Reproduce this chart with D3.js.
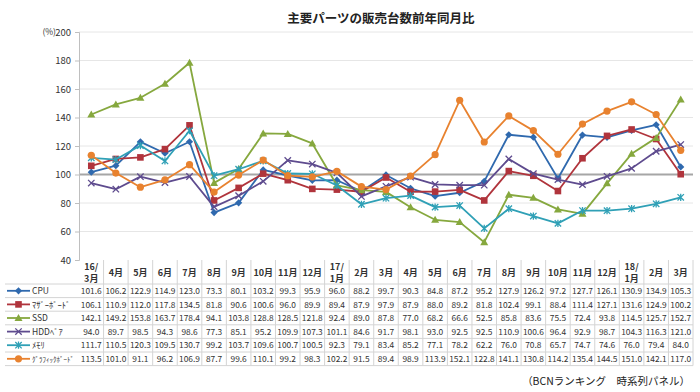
<!DOCTYPE html>
<html><head><meta charset="utf-8">
<script src="https://cdn.jsdelivr.net/npm/d3@7"></script>
<style>body{margin:0;background:#fff}svg{display:block}text{font-family:"Noto Sans CJK JP","Noto Sans",sans-serif}</style>
</head><body><svg id="c" width="700" height="392"></svg>
<script>
const categories=["16/\n3月","4月","5月","6月","7月","8月","9月","10月","11月","12月","17/\n1月","2月","3月","4月","5月","6月","7月","8月","9月","10月","11月","12月","18/\n1月","2月","3月"];
const cpu=[101.6,106.2,122.9,114.9,123.0,73.3,80.1,103.2,99.3,95.9,96.0,88.2,99.7,90.3,84.8,87.2,95.2,127.9,126.2,97.2,127.7,126.1,130.9,134.9,105.3];
const mb=[106.1,110.9,112.0,117.8,134.5,81.8,90.6,100.6,96.0,89.9,89.4,87.9,97.9,87.9,88.0,89.2,81.8,102.4,99.1,88.4,111.4,127.1,131.6,124.9,100.2];
const ssd=[142.1,149.2,153.8,163.7,178.4,94.1,103.8,128.8,128.5,121.8,92.4,89.0,87.8,77.0,68.2,66.6,52.5,85.8,83.6,75.5,72.4,93.8,114.5,125.7,152.7];
const hdd=[94.0,89.7,98.5,94.3,98.6,77.3,85.1,95.2,109.9,107.3,101.1,84.6,91.7,98.1,93.0,92.5,92.5,110.9,100.6,96.4,92.9,98.7,104.3,116.3,121.0];
const mem=[111.7,110.5,120.3,109.5,130.7,99.2,103.7,109.6,100.7,100.5,92.3,79.1,83.4,85.2,77.1,78.2,62.2,76.0,70.8,65.7,74.7,74.6,76.0,79.4,84.0];
const gpu=[113.5,101.0,91.1,96.2,106.9,87.7,99.6,110.1,99.2,98.3,102.2,91.5,89.4,98.9,113.9,152.1,122.8,141.1,130.8,114.2,135.4,144.5,151.0,142.1,117.0];
const seriesNames=["CPU","ﾏｻﾞｰﾎﾞｰﾄﾞ","SSD","HDDﾍﾞｱ","ﾒﾓﾘ","ｸﾞﾗﾌｨｯｸﾎﾞｰﾄﾞ"];
const yTicks=[40,60,80,100,120,140,160,180,200];
const title="主要パーツの販売台数前年同月比";
const source="（BCNランキング　時系列パネル）";

const series=[
 {name:seriesNames[0],values:cpu,color:"#2F69AE",marker:"diamond"},
 {name:seriesNames[1],values:mb,color:"#B0343C",marker:"square"},
 {name:seriesNames[2],values:ssd,color:"#86A83E",marker:"triangle"},
 {name:seriesNames[3],values:hdd,color:"#5E4B8E",marker:"x"},
 {name:seriesNames[4],values:mem,color:"#2FA0B6",marker:"star"},
 {name:seriesNames[5],values:gpu,color:"#E8822F",marker:"circle"}
];

const svg=d3.select("#c");
const L=79,R=693,T=32,B=260;
const x=d3.scaleBand().domain(d3.range(categories.length)).range([L,R]);
const y=d3.scaleLinear().domain([40,200]).range([B,T]);

svg.append("text").attr("x",381).attr("y",23).attr("text-anchor","middle").attr("font-size",12.5).attr("font-weight","bold").attr("fill","#222").text(title);

const g=svg.append("g");
g.selectAll("line.grid").data(yTicks.filter(v=>v!==40&&v!==100)).join("line")
 .attr("x1",L).attr("x2",R).attr("y1",d=>y(d)).attr("y2",d=>y(d)).attr("stroke","#e6e6e6").attr("stroke-width",1);
g.append("line").attr("x1",L).attr("x2",R).attr("y1",y(100)).attr("y2",y(100)).attr("stroke","#a6a6a6").attr("stroke-width",2);

const ax=svg.append("g").attr("transform",`translate(${L},0)`).call(d3.axisLeft(y).tickValues(yTicks).tickSize(4).tickPadding(4));
ax.select(".domain").attr("stroke","#bfbfbf");
ax.selectAll(".tick line").attr("stroke","#bfbfbf");
ax.selectAll(".tick text").attr("font-size",9.5).attr("fill","#333").attr("font-family","'Liberation Sans',sans-serif");
svg.append("text").attr("x",56).attr("y",y(200)+3).attr("text-anchor","end").attr("font-size",8.5).attr("fill","#333").text("(%)");

function marker(sel,type,color){
  const s=3.6;
  if(type==="diamond") sel.append("path").attr("d",`M0,${-s}L${s},0L0,${s}L${-s},0Z`).attr("fill",color);
  else if(type==="square") sel.append("rect").attr("x",-3.3).attr("y",-3.3).attr("width",6.6).attr("height",6.6).attr("fill",color);
  else if(type==="triangle") sel.append("path").attr("d",`M0,-4L4,3L-4,3Z`).attr("fill",color);
  else if(type==="circle") sel.append("circle").attr("r",3.6).attr("fill",color);
  else if(type==="x") sel.append("path").attr("d","M-3.2,-3.2L3.2,3.2M-3.2,3.2L3.2,-3.2").attr("stroke",color).attr("stroke-width",1.3).attr("fill","none");
  else if(type==="star") sel.append("path").attr("d","M-3.2,-3.2L3.2,3.2M-3.2,3.2L3.2,-3.2M0,-3.6L0,3.6").attr("stroke",color).attr("stroke-width",1.3).attr("fill","none");
}
const line=d3.line().x((d,i)=>x(i)+x.bandwidth()/2).y(d=>y(d));
series.forEach(s=>{
  svg.append("path").datum(s.values).attr("d",line).attr("fill","none").attr("stroke",s.color).attr("stroke-width",1.8).attr("stroke-linejoin","round");
  s.values.forEach((v,i)=>{
    const m=svg.append("g").attr("transform",`translate(${x(i)+x.bandwidth()/2},${y(v)})`);
    marker(m,s.marker,s.color);
  });
});

const tb=svg.append("g");
const hdrTop=B, hdrBot=284, rowH=13.6;
const tblBot=hdrBot+rowH*series.length;
d3.range(1,categories.length+1).forEach(i=>{
  const xx=i<categories.length?x(i):R;
  tb.append("line").attr("x1",xx).attr("x2",xx).attr("y1",hdrTop).attr("y2",tblBot).attr("stroke","#d4d4d4");
});
d3.range(series.length+1).forEach(r=>{
  const yy=hdrBot+r*rowH;
  tb.append("line").attr("x1",5).attr("x2",R).attr("y1",yy).attr("y2",yy).attr("stroke","#d4d4d4");
});
categories.forEach((c,i)=>{
  const parts=c.split("\n");
  const cx=x(i)+x.bandwidth()/2;
  if(parts.length===1){
    tb.append("text").attr("x",cx).attr("y",276).attr("text-anchor","middle").attr("font-size",9).attr("font-weight","bold").attr("fill","#333").text(parts[0]);
  } else {
    tb.append("text").attr("x",cx).attr("y",270).attr("text-anchor","middle").attr("font-size",9).attr("font-weight","bold").attr("fill","#333").text(parts[0]);
    tb.append("text").attr("x",cx).attr("y",281.5).attr("text-anchor","middle").attr("font-size",9).attr("font-weight","bold").attr("fill","#333").text(parts[1]);
  }
});
series.forEach((s,r)=>{
  const cy=hdrBot+r*rowH+rowH/2;
  const lg=tb.append("g");
  lg.append("line").attr("x1",7).attr("x2",30).attr("y1",cy).attr("y2",cy).attr("stroke",s.color).attr("stroke-width",1.8);
  const m=lg.append("g").attr("transform",`translate(18.5,${cy})`);
  marker(m,s.marker,s.color);
  const t=lg.append("text").attr("x",32).attr("y",cy+3.2).attr("font-size",8.5).attr("fill","#333").text(s.name);
  const w=t.node().getComputedTextLength();
  if(w>42) t.attr("font-size",8.5*42/w);
  s.values.forEach((v,i)=>{
    tb.append("text").attr("x",x(i)+x.bandwidth()/2).attr("y",cy+3.2).attr("text-anchor","middle").attr("font-size",8.4).attr("fill","#333").attr("font-family","'Liberation Sans',sans-serif").text(v.toFixed(1));
  });
});
svg.append("text").attr("x",690).attr("y",385).attr("text-anchor","end").attr("font-size",10.5).attr("fill","#222").text(source);
</script></body></html>
